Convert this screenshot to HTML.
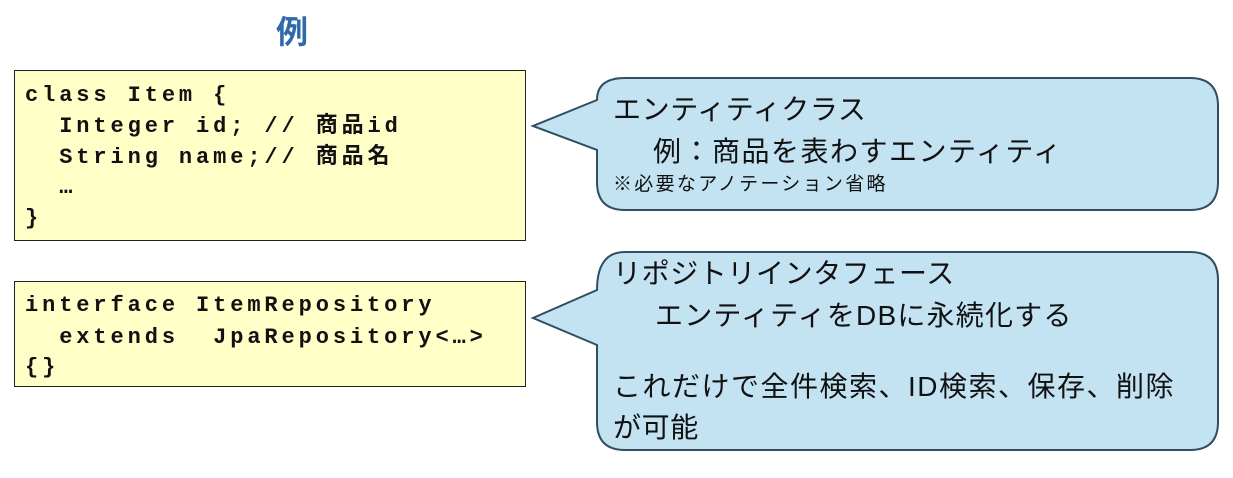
<!DOCTYPE html>
<html><head><meta charset="utf-8"><style>
body{margin:0;width:1233px;height:478px;background:#fff;position:relative;overflow:hidden;font-family:"Liberation Sans","Noto Sans CJK JP",sans-serif}
.code{position:absolute;left:14px;width:512px;background:#ffffc8;border:1.5px solid #222;box-sizing:border-box}
.c{position:absolute;left:10px;font-family:"Liberation Mono","Noto Sans CJK JP",monospace;font-weight:bold;font-size:22px;letter-spacing:3.9px;white-space:pre;line-height:22px;color:#111}
.t{position:absolute;white-space:pre;color:#111;font-size:28px;line-height:30px;letter-spacing:0.6px}
</style></head><body>
<div style="position:absolute;left:276px;top:10px;font-size:32px;font-weight:bold;color:#2e6aa8;font-family:'Noto Sans CJK JP',sans-serif;line-height:40px">例</div>
<div class="code" style="top:70px;height:171px">
<div class="c" style="top:14px">class Item {</div>
<div class="c" style="top:45px">  Integer id; // 商品id</div>
<div class="c" style="top:76px">  String name;// 商品名</div>
<div class="c" style="top:106px">  …</div>
<div class="c" style="top:137px">}</div>
</div>
<div class="code" style="top:281px;height:106px">
<div class="c" style="top:13px">interface ItemRepository</div>
<div class="c" style="top:45px">  extends  JpaRepository&lt;…&gt;</div>
<div class="c" style="top:75px">{}</div>
</div>
<svg style="position:absolute;left:0;top:0" width="1233" height="478">
<path d="M625,78 H1190 Q1218,78 1218,106 V182 Q1218,210 1190,210 H625 Q597,210 597,182 V150 L533,126 L597,100 Q597,78 625,78 Z" fill="#c3e3f3" stroke="#2f4f5f" stroke-width="2"/>
<path d="M625,252 H1190 Q1218,252 1218,280 V422 Q1218,450 1190,450 H625 Q597,450 597,422 V345 L533,318 L597,290 Q597,252 625,252 Z" fill="#c3e3f3" stroke="#2f4f5f" stroke-width="2"/>
</svg>
<div class="t" style="left:613px;top:95px">エンティティクラス</div>
<div class="t" style="left:653px;top:137px;letter-spacing:1.5px">例：商品を表わすエンティティ</div>
<div class="t" style="left:613px;top:174px;font-size:19px;line-height:22px;letter-spacing:2.3px">※必要なアノテーション省略</div>
<div class="t" style="left:613px;top:259px">リポジトリインタフェース</div>
<div class="t" style="left:655px;top:301px;letter-spacing:1.2px">エンティティをDBに永続化する</div>
<div class="t" style="left:613px;top:372px;letter-spacing:1.5px">これだけで全件検索、ID検索、保存、削除</div>
<div class="t" style="left:613px;top:413px">が可能</div>
</body></html>
